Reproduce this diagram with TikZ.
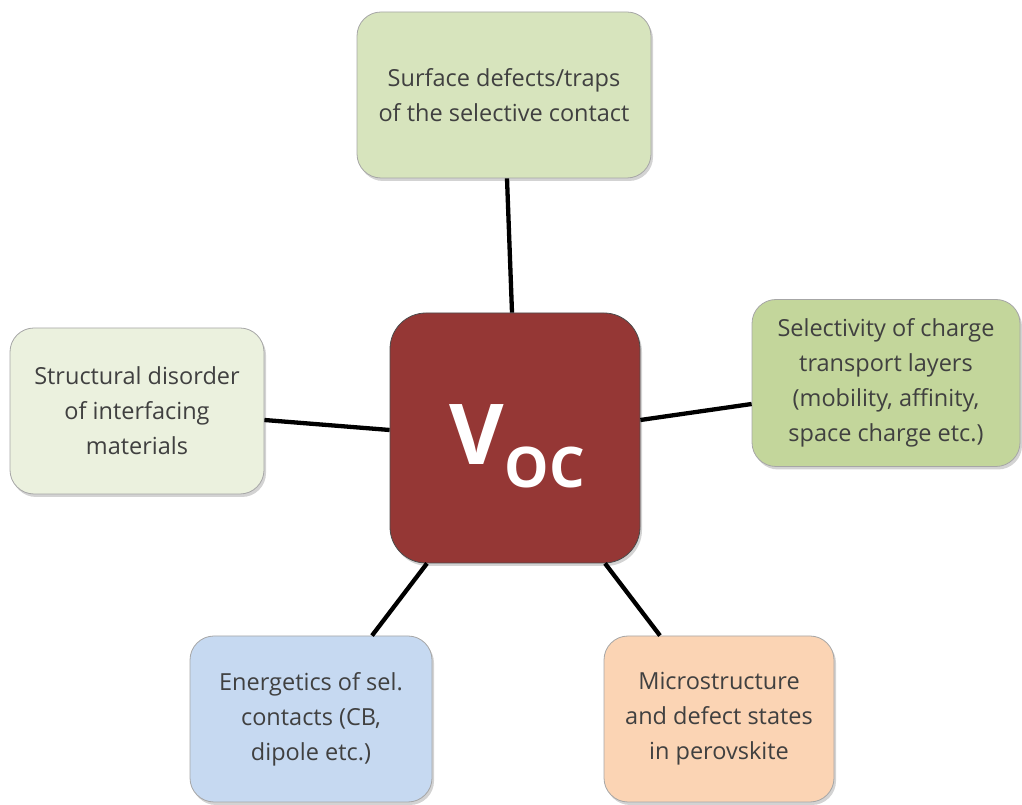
\documentclass[tikz,border=0pt]{standalone}
\usepackage{fontspec}
\setmainfont{Open Sans}
\usetikzlibrary{shadows}

\definecolor{vocred}{HTML}{953735}
\definecolor{greenA}{HTML}{D7E4BD}
\definecolor{greenB}{HTML}{EBF1DE}
\definecolor{greenC}{HTML}{C3D69B}
\definecolor{blueA}{HTML}{C6D9F1}
\definecolor{peachA}{HTML}{FBD4B4}
\definecolor{txtgray}{HTML}{404040}

\tikzset{
  factor/.style={draw=gray!70, line width=0.8pt, rounded corners=24pt,
    align=center, text=txtgray, inner sep=0pt,
    font=\fontsize{23.5}{35}\selectfont,
    drop shadow={shadow xshift=2pt, shadow yshift=-3pt, opacity=0.35}},
  link/.style={line width=4.3pt, black}
}

\begin{document}
\begin{tikzpicture}[x=1pt,y=1pt]
\useasboundingbox (0,0) rectangle (1022,805);

% centre
\node[draw=gray!60!black, line width=0.8pt, fill=vocred, rounded corners=36pt,
  minimum width=250pt, minimum height=250pt,
  drop shadow={shadow xshift=2pt, shadow yshift=-3pt, opacity=0.35}]
  (ctr) at (515,367) {};
\node[text=white, font=\fontsize{84}{84}\bfseries\selectfont, anchor=base, inner sep=0pt]
  (vsym) at (477,340) {V};
\node[text=white, font=\fontsize{56}{56}\bfseries\selectfont, anchor=base west, inner sep=0pt]
  (vsub) at (vsym.base east) [yshift=-23pt] {OC};

% cases autour
\node[factor, fill=greenA, minimum width=294pt, minimum height=166pt]
  (top) at (504,710) {Surface defects/traps\\of the selective contact};
\node[factor, fill=greenB, minimum width=254pt, minimum height=166pt]
  (lft) at (137,394) {Structural disorder\\of interfacing\\materials};
\node[factor, fill=greenC, minimum width=268pt, minimum height=167pt]
  (rgt) at (886,422) {Selectivity of charge\\transport layers\\(mobility, affinity,\\space charge etc.)};
\node[factor, fill=blueA, minimum width=242pt, minimum height=166pt]
  (bl) at (311,86) {Energetics of sel.\\contacts (CB,\\dipole etc.)};
\node[factor, fill=peachA, minimum width=230pt, minimum height=166pt]
  (br) at (719,86) {Microstructure\\and defect states\\in perovskite};

% liens
\draw[link] ([xshift=3pt]top.south) -- ([xshift=-3pt]ctr.north);
\draw[link] ([yshift=-9pt]lft.east) -- ([yshift=8pt]ctr.west);
\draw[link] ([yshift=18pt]ctr.east) -- ([yshift=-21pt]rgt.west);
\draw[link] ([xshift=-88pt]ctr.south) -- ([xshift=61pt]bl.north);
\draw[link] ([xshift=90pt]ctr.south) -- ([xshift=-59pt]br.north);

\end{tikzpicture}
\end{document}
